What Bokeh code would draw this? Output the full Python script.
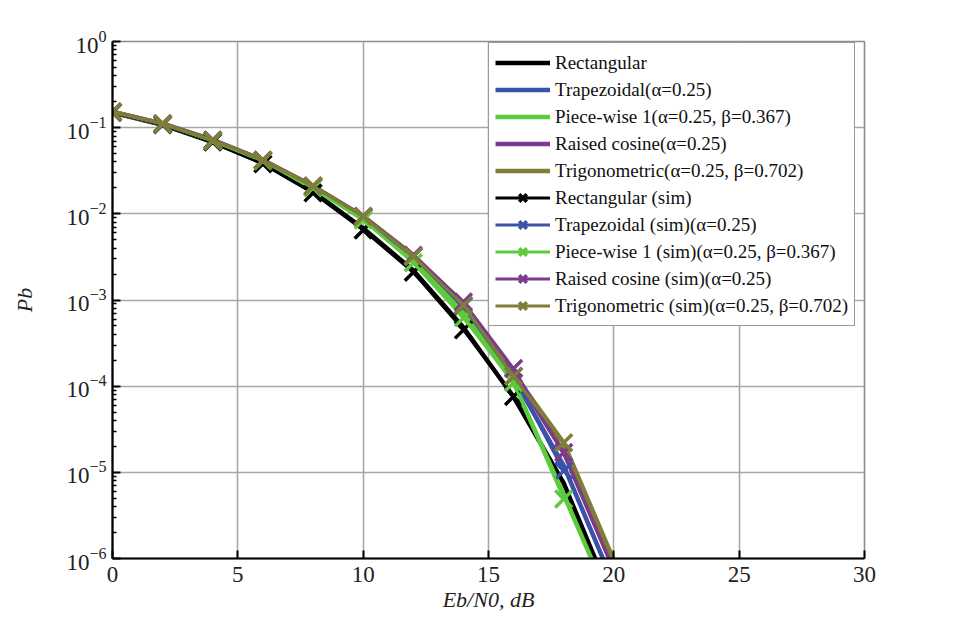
from bokeh.plotting import figure
from bokeh.models import Legend, LegendItem, FixedTicker, Range1d
from bokeh.embed import file_html
from bokeh.resources import INLINE

NAN = float("nan")

# ---- data ----
snr_theory = [0, 2, 4, 6, 8, 10, 12, 14, 16, 18, 20]
rect_theory = [0.150, 0.108, 0.068, 0.039, 0.0180, 0.0068, 0.0022, 4.8e-4, 7.5e-5, 7.5e-6, 3.0e-7]
trap_theory = [0.152, 0.110, 0.071, 0.042, 0.0205, 0.0090, 0.0031, 8.3e-4, 1.25e-4, 1.2e-5, 5.0e-7]
pw_theory = [0.152, 0.110, 0.070, 0.041, 0.0200, 0.0087, 0.0029, 7.0e-4, 1.1e-4, 5.5e-6, 2.5e-7]
rc_theory = [0.152, 0.111, 0.072, 0.042, 0.0210, 0.0093, 0.0033, 9.0e-4, 1.45e-4, 1.7e-5, 7.5e-7]
trig_theory = [0.153, 0.111, 0.072, 0.042, 0.0210, 0.0094, 0.0033, 9.0e-4, 1.4e-4, 2.2e-5, 9.5e-7]

snr_sim = [0, 2, 4, 6, 8, 10, 12, 14, 16, 18]
rect_sim = [0.150, 0.108, 0.068, 0.038, 0.0175, 0.0065, 0.0021, 4.5e-4, 7.6e-5, NAN]
trap_sim = [0.152, 0.110, 0.071, 0.042, 0.0205, 0.0090, 0.0032, 8.5e-4, 1.3e-4, 1.04e-5]
pw_sim = [0.152, 0.110, 0.070, 0.041, 0.0200, 0.0085, 0.0027, 6.2e-4, 1.1e-4, 4.9e-6]
rc_sim = [0.152, 0.111, 0.072, 0.042, 0.0210, 0.0094, 0.0033, 9.5e-4, 1.6e-4, 1.7e-5]
trig_sim = [0.152, 0.111, 0.0715, 0.042, 0.0210, 0.0093, 0.0032, 8.7e-4, 1.3e-4, 2.2e-5]

theory_labels = [
    "Rectangular",
    "Trapezoidal(α=0.25)",
    "Piece-wise 1(α=0.25, β=0.367)",
    "Raised cosine(α=0.25)",
    "Trigonometric(α=0.25, β=0.702)",
]
sim_labels = [
    "Rectangular (sim)",
    "Trapezoidal (sim)(α=0.25)",
    "Piece-wise 1 (sim)(α=0.25, β=0.367)",
    "Raised cosine (sim)(α=0.25)",
    "Trigonometric (sim)(α=0.25, β=0.702)",
]
colors = ["#000000", "#3a52a8", "#5ccc3c", "#7c3a8c", "#7f7d38"]

x_ticks = [0, 5, 10, 15, 20, 25, 30]
y_ticks = [1e-6, 1e-5, 1e-4, 1e-3, 1e-2, 1e-1, 1e0]

FONT = "Liberation Serif"
LFONT = "'Liberation Serif', 'DejaVu Serif', serif"

p = figure(
    width=938, height=614,
    y_axis_type="log",
    x_range=Range1d(0, 30), y_range=Range1d(1e-6, 1),
    output_backend="svg", toolbar_location=None,
    min_border_left=112, min_border_right=74,
    min_border_top=41, min_border_bottom=55,
    background_fill_color="white", border_fill_color="white",
)

# grid & frame
p.xgrid.grid_line_color = "#a8a8a8"
p.ygrid.grid_line_color = "#a8a8a8"
p.xgrid.grid_line_width = 1.6
p.ygrid.grid_line_width = 1.6
p.outline_line_color = "#8c8c8c"
p.outline_line_width = 1.6

# axes
p.xaxis.ticker = FixedTicker(ticks=x_ticks)
minor = [m * d for d in y_ticks[:-1] for m in range(2, 10)]
p.yaxis.ticker = FixedTicker(ticks=y_ticks, minor_ticks=minor)
for ax in (p.xaxis[0], p.yaxis[0]):
    ax.axis_line_color = "black"
    ax.axis_line_width = 2.2
    ax.major_tick_in = 8
    ax.major_tick_out = 0
    ax.minor_tick_in = 4
    ax.minor_tick_out = 0
    ax.major_tick_line_color = "black"
    ax.major_tick_line_width = 2
    ax.minor_tick_line_color = "black"
    ax.minor_tick_line_width = 1.5
    ax.major_label_text_font = FONT
    ax.major_label_text_font_size = "23px"
    ax.major_label_text_color = "#222222"
    ax.axis_label_text_font = FONT
    ax.axis_label_text_font_style = "italic"
    ax.axis_label_text_font_size = "22px"
    ax.axis_label_text_color = "#222222"
p.xaxis.minor_tick_line_color = None
p.xaxis.major_label_standoff = 8
p.yaxis.major_label_standoff = 6
p.xaxis.axis_label = "Eb/N0, dB"
p.yaxis.axis_label = "Pb"
p.xaxis.axis_label_standoff = 2
p.yaxis.axis_label_standoff = 26

theory_sets = [rect_theory, trap_theory, pw_theory, rc_theory, trig_theory]
sim_sets = [rect_sim, trap_sim, pw_sim, rc_sim, trig_sim]

items = []
for vals, lab, col in zip(theory_sets, theory_labels, colors):
    r = p.line(snr_theory, vals, line_color=col, line_width=4.5)
    items.append(LegendItem(label=lab, renderers=[r]))
for vals, lab, col in zip(sim_sets, sim_labels, colors):
    rl = p.line(snr_sim, vals, line_color=col, line_width=3)
    rm = p.scatter(snr_sim, vals, marker="x", size=24, line_color=col, line_width=3.5)
    items.append(LegendItem(label=lab, renderers=[rl, rm]))

legend = Legend(
    items=items, location=(376, 232),
    label_text_font=LFONT, label_text_font_size="19px", label_text_color="#111111",
    glyph_width=55, glyph_height=27, label_height=27, label_standoff=5,
    spacing=0, padding=6, margin=0,
    border_line_color="#333333", border_line_width=1.5,
    background_fill_color="white", background_fill_alpha=1.0,
)
p.add_layout(legend)

open("out.html", "w").write(file_html(p, INLINE))
